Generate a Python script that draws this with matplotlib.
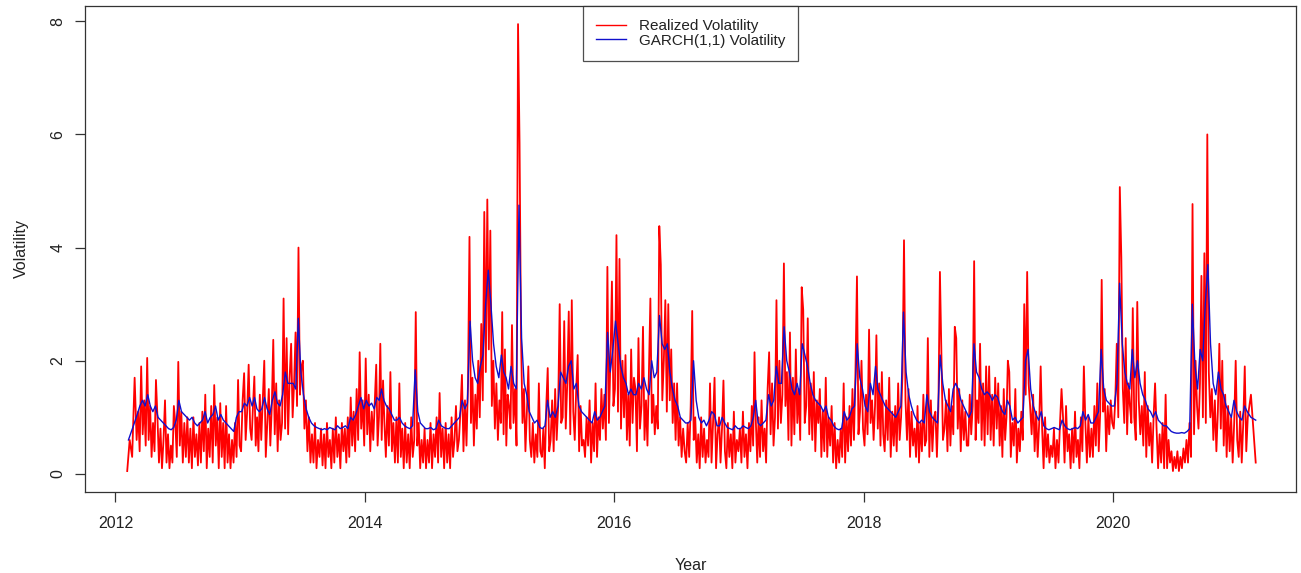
import matplotlib
matplotlib.use("Agg")
import matplotlib.pyplot as plt
import matplotlib.dates as mdates
import pandas as pd

# Realized volatility, 7 readings per month (2012 starts in February)
rv_2012 = [
    [0.05, 0.6, 0.3, 1.7],
    [0.6, 1.1, 0.4, 1.9, 0.7, 1.3, 0.5],
    [2.05, 0.6, 1.2, 0.3, 0.9, 0.4, 1.66],
    [1.0, 0.2, 0.8, 0.1, 0.6, 1.3, 0.2],
    [0.7, 0.1, 0.5, 0.2, 1.2, 0.9, 0.3],
    [1.98, 0.5, 1.1, 0.2, 0.9, 0.3, 1.0],
    [0.2, 0.8, 0.1, 1.0, 0.3, 0.7, 0.15],
    [0.9, 0.2, 1.1, 0.4, 1.4, 0.1, 0.8],
    [0.3, 1.2, 0.2, 1.57, 0.5, 1.0, 0.1],
    [1.25, 0.3, 0.9, 0.1, 1.2, 0.2, 0.7],
    [0.1, 0.6, 0.2, 0.9, 0.3, 1.66, 0.5],
]
rv_2013 = [
    [0.4, 1.3, 1.78, 0.6, 1.1, 1.93, 0.8],
    [0.6, 1.2, 1.72, 0.5, 1.0, 0.4, 1.4],
    [0.6, 1.3, 2.0, 0.3, 0.9, 1.5, 0.5],
    [1.2, 2.37, 0.7, 1.6, 0.4, 1.3, 0.6],
    [0.9, 3.1, 0.8, 2.4, 0.7, 1.7, 2.3],
    [1.0, 1.6, 2.5, 1.2, 4.0, 1.4, 1.9],
    [2.0, 0.8, 1.3, 0.4, 1.0, 0.2, 0.7],
    [0.2, 0.9, 0.1, 0.6, 0.3, 0.8, 0.15],
    [0.7, 0.1, 0.9, 0.3, 0.6, 0.1, 0.8],
    [0.2, 1.0, 0.3, 0.7, 0.1, 0.9, 0.4],
    [0.8, 0.2, 1.0, 0.3, 1.35, 0.5, 1.1],
    [0.4, 1.5, 0.6, 2.15, 0.8, 1.3, 0.5],
]
rv_2014 = [
    [2.04, 0.7, 1.4, 0.4, 1.1, 0.6, 1.3],
    [1.93, 0.5, 1.0, 2.3, 0.6, 1.65, 0.9],
    [0.3, 1.2, 0.5, 1.8, 0.4, 0.9, 0.2],
    [1.0, 0.2, 1.6, 0.3, 0.8, 0.1, 0.9],
    [0.2, 0.7, 0.1, 1.0, 0.3, 0.6, 2.86],
    [0.5, 0.9, 0.1, 0.6, 0.2, 0.8, 0.1],
    [0.6, 0.2, 0.9, 0.1, 0.7, 0.3, 1.0],
    [0.2, 1.43, 0.3, 0.8, 0.1, 0.9, 0.2],
    [0.7, 0.1, 1.0, 0.3, 0.6, 1.2, 0.4],
    [0.6, 1.1, 1.75, 0.4, 1.3, 0.5, 1.6],
    [4.19, 0.9, 1.7, 0.5, 1.4, 0.8, 2.0],
    [1.0, 2.65, 1.3, 4.63, 1.8, 4.85, 2.2],
]
rv_2015 = [
    [4.3, 1.2, 2.0, 0.8, 1.6, 0.6, 1.3],
    [0.9, 2.86, 0.7, 2.2, 0.5, 1.4, 1.2],
    [0.8, 2.63, 0.9, 1.5, 0.5, 7.95, 5.85],
    [2.4, 0.9, 1.5, 0.4, 1.1, 1.9, 0.6],
    [0.3, 0.9, 0.2, 0.7, 0.3, 1.6, 0.4],
    [0.3, 0.8, 0.1, 1.2, 1.87, 0.4, 0.6],
    [1.3, 0.4, 1.5, 0.6, 1.2, 3.0, 0.9],
    [1.0, 2.7, 0.8, 1.6, 2.87, 0.7, 3.07],
    [1.1, 0.6, 1.5, 2.1, 0.4, 1.2, 0.5],
    [0.6, 0.3, 1.0, 0.5, 1.3, 0.2, 0.9],
    [0.4, 1.6, 0.3, 1.0, 0.6, 1.5, 0.8],
    [1.4, 0.6, 3.66, 0.9, 2.0, 3.4, 1.2],
]
rv_2016 = [
    [1.5, 4.22, 1.1, 3.8, 0.8, 2.0, 1.0],
    [2.1, 0.6, 1.4, 0.5, 2.2, 0.9, 1.7],
    [1.5, 0.4, 2.4, 0.8, 1.2, 2.6, 0.6],
    [1.3, 0.5, 1.8, 3.1, 0.9, 1.4, 0.7],
    [1.2, 0.8, 4.38, 3.7, 1.3, 2.0, 3.07],
    [1.1, 3.0, 1.3, 2.2, 0.9, 1.6, 0.6],
    [1.6, 0.5, 1.0, 0.3, 0.8, 0.4, 0.2],
    [0.9, 0.3, 1.2, 2.88, 0.6, 1.0, 0.2],
    [0.7, 0.1, 1.0, 0.3, 0.8, 0.2, 0.6],
    [0.3, 1.6, 0.2, 0.9, 1.7, 0.1, 0.7],
    [1.0, 0.2, 0.8, 1.65, 0.4, 0.1, 0.9],
    [0.3, 0.7, 0.1, 1.1, 0.2, 0.6, 0.4],
]
rv_2017 = [
    [0.8, 0.2, 1.1, 0.3, 0.7, 0.1, 0.9],
    [0.4, 1.2, 0.5, 2.15, 0.9, 0.2, 1.0],
    [0.3, 1.3, 0.4, 0.8, 0.2, 1.5, 2.15],
    [0.7, 1.6, 0.5, 1.0, 3.07, 0.8, 2.0],
    [0.9, 1.4, 3.72, 1.2, 1.8, 0.6, 2.5],
    [0.5, 1.7, 0.7, 2.2, 0.9, 1.5, 0.6],
    [3.3, 2.9, 0.9, 1.2, 2.75, 0.7, 1.6],
    [0.6, 1.8, 0.4, 1.3, 0.9, 1.5, 0.3],
    [1.1, 0.4, 1.7, 0.3, 1.0, 0.5, 1.2],
    [0.2, 0.9, 0.1, 0.6, 0.2, 0.8, 0.3],
    [1.6, 0.2, 1.0, 0.4, 1.2, 0.5, 1.5],
    [0.6, 1.8, 3.49, 0.7, 1.1, 2.0, 0.8],
]
rv_2018 = [
    [0.5, 1.4, 0.7, 2.55, 0.9, 1.3, 0.6],
    [1.2, 2.45, 0.8, 1.6, 0.5, 1.8, 0.7],
    [0.4, 1.3, 0.6, 1.7, 0.3, 1.1, 0.5],
    [1.2, 0.4, 1.6, 0.6, 1.0, 1.8, 4.13],
    [1.3, 0.6, 1.5, 0.3, 1.1, 0.5, 0.8],
    [0.3, 1.2, 0.2, 0.9, 0.4, 1.4, 0.5],
    [0.6, 2.4, 0.3, 1.3, 0.4, 1.0, 1.1],
    [0.3, 1.2, 3.57, 2.1, 0.6, 0.8, 1.3],
    [0.4, 1.5, 0.5, 1.2, 0.7, 2.6, 2.4],
    [0.8, 1.5, 0.4, 1.3, 0.6, 1.1, 0.5],
    [0.5, 1.4, 0.7, 1.2, 3.76, 0.6, 1.3],
    [0.9, 2.3, 0.6, 1.6, 0.5, 1.9, 0.7],
]
rv_2019 = [
    [1.9, 0.6, 1.4, 0.5, 1.7, 0.8, 1.6],
    [0.5, 1.2, 0.3, 1.5, 0.6, 1.0, 2.0],
    [1.8, 0.3, 0.9, 0.5, 1.5, 0.2, 0.8],
    [0.4, 1.1, 0.6, 3.0, 1.4, 3.57, 1.6],
    [1.2, 0.7, 1.4, 0.4, 1.1, 0.3, 0.9],
    [1.9, 0.8, 0.1, 1.0, 0.3, 0.7, 0.2],
    [0.5, 0.3, 0.8, 0.1, 0.6, 0.2, 0.9],
    [1.5, 1.0, 0.2, 1.2, 0.4, 0.7, 0.1],
    [0.8, 0.2, 1.1, 0.3, 0.6, 0.1, 1.0],
    [0.4, 1.9, 0.9, 0.2, 1.0, 0.3, 0.8],
    [0.3, 1.2, 0.5, 1.6, 0.4, 1.1, 3.43],
    [1.1, 1.5, 0.4, 1.2, 0.7, 1.3, 0.9],
]
rv_2020 = [
    [0.8, 1.3, 2.3, 1.0, 5.07, 3.83, 1.5],
    [0.9, 2.4, 0.7, 1.6, 1.2, 0.9, 2.93],
    [1.0, 0.6, 3.04, 1.3, 0.7, 1.2, 0.5],
    [1.8, 0.3, 1.2, 0.5, 0.9, 0.2, 1.0],
    [1.6, 0.8, 0.1, 0.7, 0.2, 0.9, 0.1],
    [1.4, 0.1, 0.6, 0.2, 0.4, 0.05, 0.3],
    [0.1, 0.4, 0.05, 0.3, 0.1, 0.45, 0.2],
    [0.6, 0.2, 0.9, 0.3, 4.77, 0.7, 2.0],
    [1.2, 0.8, 1.6, 3.5, 1.0, 3.9, 0.9],
    [6.0, 1.8, 1.0, 1.5, 0.6, 1.3, 0.4],
    [1.1, 2.3, 0.8, 2.0, 0.5, 1.4, 0.3],
    [1.2, 0.4, 1.0, 0.2, 0.9, 2.0, 0.6],
]
rv_2021 = [
    [0.3, 1.1, 0.2, 0.9, 1.9, 0.4, 1.0],
    [1.4, 0.2],
]

# GARCH(1,1) volatility, 4 readings per month
g_2012 = [
    [0.6, 0.85], [1.05, 1.2, 1.3, 1.2], [1.4, 1.2, 1.1, 1.2],
    [1.0, 0.95, 0.9, 0.85], [0.8, 0.78, 0.82, 0.95], [1.3, 1.1, 1.05, 1.0],
    [0.95, 1.0, 0.9, 0.85], [0.9, 0.95, 1.1, 0.9], [1.0, 1.05, 1.2, 0.95],
    [1.05, 0.95, 0.9, 0.85], [0.8, 0.75, 1.0, 1.1],
]
g_2013 = [
    [1.1, 1.25, 1.2, 1.35], [1.2, 1.35, 1.15, 1.1], [1.15, 1.35, 1.15, 1.05],
    [1.3, 1.45, 1.25, 1.2], [1.4, 1.8, 1.6, 1.6], [1.6, 1.5, 2.75, 1.8],
    [1.4, 1.15, 1.0, 0.9], [0.85, 0.82, 0.8, 0.78], [0.8, 0.78, 0.82, 0.8],
    [0.78, 0.85, 0.8, 0.82], [0.85, 0.8, 1.0, 0.95], [1.05, 1.2, 1.35, 1.15],
]
g_2014 = [
    [1.3, 1.2, 1.25, 1.15], [1.35, 1.3, 1.5, 1.3], [1.2, 1.15, 1.05, 0.95],
    [0.95, 1.0, 0.9, 0.85], [0.82, 0.8, 0.85, 1.84], [1.1, 0.9, 0.85, 0.8],
    [0.8, 0.82, 0.78, 0.8], [0.95, 0.85, 0.82, 0.8], [0.8, 0.85, 0.9, 0.95],
    [1.0, 1.3, 1.15, 1.25], [2.7, 2.0, 1.7, 1.6], [1.9, 2.1, 3.0, 3.6],
]
g_2015 = [
    [3.0, 2.3, 1.9, 1.7], [2.1, 1.8, 1.7, 1.5], [1.9, 1.6, 1.5, 4.75],
    [2.4, 1.6, 1.4, 1.1], [1.0, 0.9, 0.95, 0.82], [0.8, 0.85, 1.3, 1.0],
    [1.1, 1.0, 1.2, 1.8], [1.7, 1.6, 1.9, 2.0], [1.5, 1.6, 1.2, 1.1],
    [1.05, 1.0, 0.95, 0.9], [1.1, 0.95, 1.0, 1.1], [1.2, 2.5, 1.8, 2.2],
]
g_2016 = [
    [2.7, 2.3, 1.9, 1.7], [1.6, 1.4, 1.5, 1.4], [1.4, 1.6, 1.5, 1.7],
    [1.5, 1.4, 2.0, 1.7], [1.8, 2.8, 2.3, 2.2], [2.3, 1.8, 1.5, 1.3],
    [1.2, 1.0, 0.95, 0.9], [0.9, 0.95, 2.0, 1.3], [1.0, 0.9, 0.95, 0.85],
    [0.95, 1.1, 1.05, 0.85], [0.85, 1.0, 0.9, 0.82], [0.8, 0.78, 0.85, 0.8],
]
g_2017 = [
    [0.8, 0.85, 0.82, 0.8], [0.85, 1.0, 1.3, 0.9], [0.85, 0.9, 0.95, 1.4],
    [1.2, 1.3, 1.9, 1.6], [1.6, 2.6, 2.0, 1.8], [1.5, 1.4, 1.6, 1.4],
    [2.3, 2.1, 1.9, 1.6], [1.4, 1.3, 1.25, 1.2], [1.1, 1.2, 1.0, 0.95],
    [0.85, 0.8, 0.78, 0.8], [1.1, 0.95, 1.0, 1.15], [1.2, 2.3, 1.7, 1.5],
]
g_2018 = [
    [1.2, 1.1, 1.6, 1.4], [1.9, 1.5, 1.4, 1.3], [1.2, 1.15, 1.1, 1.05],
    [1.0, 1.1, 1.2, 2.86], [1.8, 1.4, 1.2, 1.05], [0.95, 0.9, 0.95, 0.9],
    [1.4, 1.1, 1.0, 0.95], [0.9, 2.1, 1.6, 1.3], [1.2, 1.1, 1.5, 1.6],
    [1.5, 1.3, 1.2, 1.1], [1.0, 1.1, 2.3, 1.8], [1.7, 1.5, 1.4, 1.45],
]
g_2019 = [
    [1.4, 1.3, 1.4, 1.35], [1.2, 1.1, 1.05, 1.3], [1.2, 0.95, 1.0, 0.9],
    [0.95, 1.0, 2.0, 2.2], [1.5, 1.2, 1.05, 0.95], [1.1, 0.85, 0.8, 0.78],
    [0.8, 0.82, 0.8, 0.78], [0.95, 0.85, 0.8, 0.78], [0.8, 0.82, 0.8, 0.85],
    [1.1, 0.95, 1.05, 0.9], [0.9, 1.0, 1.1, 2.2], [1.5, 1.3, 1.25, 1.2],
]
g_2020 = [
    [1.2, 1.6, 3.37, 2.3], [1.8, 1.6, 1.5, 2.2], [1.7, 2.0, 1.6, 1.4],
    [1.3, 1.15, 1.1, 1.0], [1.1, 0.95, 0.9, 0.85], [0.85, 0.8, 0.75, 0.73],
    [0.72, 0.72, 0.73, 0.72], [0.75, 0.8, 3.0, 1.9], [1.5, 2.2, 2.0, 3.0],
    [3.7, 2.3, 1.6, 1.4], [1.8, 1.5, 1.4, 1.2], [1.1, 1.0, 1.3, 1.1],
]
g_2021 = [
    [1.0, 0.95, 1.2, 1.1], [1.0, 0.95],
]

YEARS = list(range(2012, 2022))
FIRST_MONTH = {2012: 2}
RV = [rv_2012, rv_2013, rv_2014, rv_2015, rv_2016,
      rv_2017, rv_2018, rv_2019, rv_2020, rv_2021]
GARCH = [g_2012, g_2013, g_2014, g_2015, g_2016,
         g_2017, g_2018, g_2019, g_2020, g_2021]


def spread(year, months):
    """Spread each month's readings evenly across that month."""
    dates, vals = [], []
    m0 = FIRST_MONTH.get(year, 1)
    for k, readings in enumerate(months):
        start = pd.Timestamp(year, m0 + k, 1)
        span = (start + pd.offsets.MonthBegin(1)) - start
        n = len(readings)
        for i, v in enumerate(readings):
            dates.append(start + span * (i + 0.5) / n)
            vals.append(v)
    return dates, vals


def series(blocks):
    d_all, v_all = [], []
    for year, months in zip(YEARS, blocks):
        d, v = spread(year, months)
        d_all += d
        v_all += v
    return d_all, v_all


rv_dates, rv_vals = series(RV)
g_dates, g_vals = series(GARCH)

plt.rcParams["font.family"] = ["Liberation Sans", "DejaVu Sans"]
TXT = "#222222"

fig = plt.figure(figsize=(13.01, 5.73), dpi=100)
ax = fig.add_axes([85 / 1301, 81 / 573, 1211 / 1301, 486 / 573])

ax.plot(rv_dates, rv_vals, color="#ff0000", lw=1.3, label="Realized Volatility")
ax.plot(g_dates, g_vals, color="#1010cc", lw=1.0, label="GARCH(1,1) Volatility")

ax.set_xlim(pd.Timestamp("2011-10-04"), pd.Timestamp("2021-06-20"))
ax.set_ylim(-0.32, 8.27)
ax.xaxis.set_major_locator(mdates.YearLocator(2))
ax.xaxis.set_major_formatter(mdates.DateFormatter("%Y"))
ax.set_yticks([0, 2, 4, 6, 8])
ax.set_yticklabels(["0", "2", "4", "6", "8"], rotation=90, va="center")

ax.tick_params(axis="both", direction="out", length=7, width=0.9,
               colors="#333333", labelcolor=TXT, labelsize=11.5)
ax.tick_params(axis="x", pad=10)
ax.tick_params(axis="y", pad=7)
for s in ax.spines.values():
    s.set_color("#333333")
    s.set_linewidth(0.9)

ax.set_xlabel("Year", fontsize=11.5, color=TXT)
ax.set_ylabel("Volatility", fontsize=11.5, color=TXT)
ax.xaxis.set_label_coords(0.5, -0.135)
ax.yaxis.set_label_coords(-0.046, 0.5)

leg = ax.legend(loc="upper center", bbox_to_anchor=(0.5, 1.0), borderaxespad=0,
                fontsize=11, frameon=True, fancybox=False, labelspacing=0.05,
                handlelength=2.0, handletextpad=0.8, borderpad=0.85)
leg.get_frame().set_edgecolor("#222222")
leg.get_frame().set_linewidth(0.9)
for line in leg.get_lines():
    line.set_linewidth(1.0)
for t in leg.get_texts():
    t.set_color(TXT)

fig.savefig("out.png", dpi=100)
